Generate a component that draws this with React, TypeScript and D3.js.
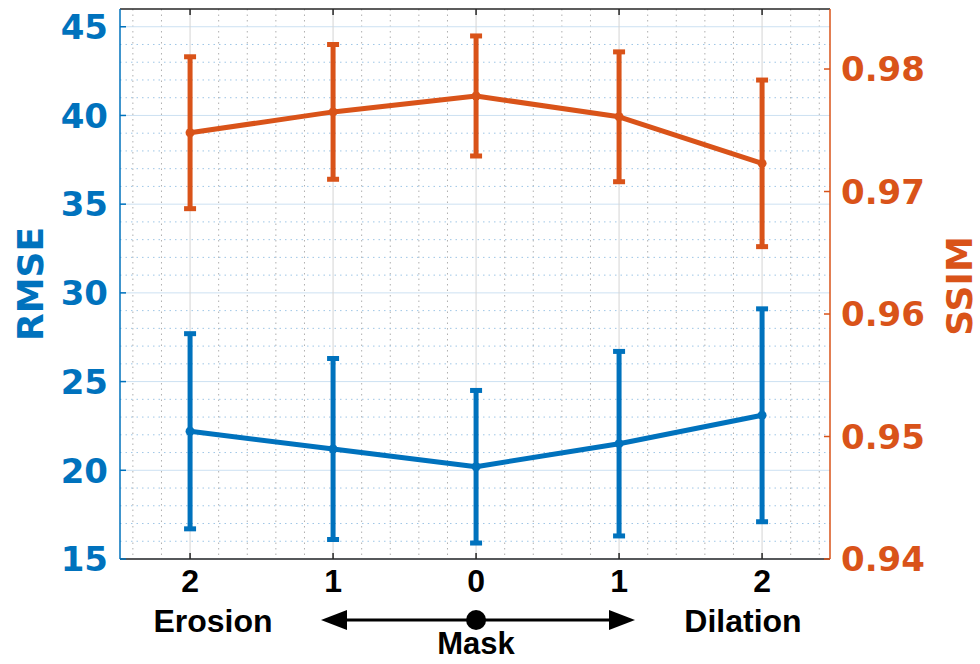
import React from 'react';
import * as d3 from 'd3';

// x positions: Erosion 2, 1, Mask 0, Dilation 1, 2
const categories = ['2', '1', '0', '1', '2'];
const rmseMean = [22.2, 21.2, 20.2, 21.5, 23.1];
const rmseErr = [5.5, 5.1, 4.3, 5.2, 6.0];
const ssimMean = [0.9748, 0.9765, 0.9778, 0.9761, 0.9723];
const ssimErr = [0.0062, 0.0055, 0.0049, 0.0053, 0.0068];
const rmseTicks = [15, 20, 25, 30, 35, 40, 45];
const ssimTicks = [0.94, 0.95, 0.96, 0.97, 0.98];

const BLUE = '#0072BD';
const ORANGE = '#D95319';
const YFONT = '"DejaVu Sans", Verdana, sans-serif';
const XFONT = '"Liberation Sans", Arial, sans-serif';

export default function App() {
  const width = 980;
  const height = 664;
  const left = 120, right = 830, top = 9, bottom = 559;

  const x = d3.scaleLinear().domain([0.51, 5.475]).range([left, right]);
  const yL = d3.scaleLinear().domain([15, 46]).range([bottom, top]);
  const yR = d3.scaleLinear().domain([0.94, 0.9849]).range([bottom, top]);

  const idx = categories.map((_, i) => i + 1);
  const minorX = d3.range(0.6, 5.45, 0.2).filter((v) => Math.abs(v - Math.round(v)) > 0.01);
  const minorY = d3.range(16, 46, 1).filter((v) => v % 5 !== 0);

  const rmsePath = d3.line<number>().x((d, i) => x(i + 1)).y((d) => yL(d))(rmseMean) || '';
  const ssimPath = d3.line<number>().x((d, i) => x(i + 1)).y((d) => yR(d))(ssimMean) || '';

  const errorBars = (mean: number[], err: number[], y: d3.ScaleLinear<number, number>, color: string) =>
    mean.map((m, i) => {
      const cx = x(i + 1);
      const y0 = y(m - err[i]);
      const y1 = y(m + err[i]);
      return (
        <g key={i} stroke={color} strokeWidth={5}>
          <line x1={cx} x2={cx} y1={y0} y2={y1} />
          <line x1={cx - 6} x2={cx + 6} y1={y0} y2={y0} />
          <line x1={cx - 6} x2={cx + 6} y1={y1} y2={y1} />
        </g>
      );
    });

  const arrowY = 620;
  const arrowL = 321, arrowR = 635, dotX = x(3);

  return (
    <svg width={width} height={height} style={{ position: 'absolute', left: 0, top: 0, background: '#fff' }}>
      {/* grid */}
      <g>
        {minorX.map((v) => (
          <line key={'mx' + v} x1={x(v)} x2={x(v)} y1={top} y2={bottom} stroke="#b0b0b0" strokeWidth={1} strokeDasharray="1.5 4" />
        ))}
        {minorY.map((v) => (
          <line key={'my' + v} x1={left} x2={right} y1={yL(v)} y2={yL(v)} stroke="#9fc6e6" strokeWidth={1} strokeDasharray="1.5 4" />
        ))}
        {rmseTicks.map((v) => (
          <line key={'gy' + v} x1={left} x2={right} y1={yL(v)} y2={yL(v)} stroke="#cde1f2" strokeWidth={1} />
        ))}
        {idx.map((v) => (
          <line key={'gx' + v} x1={x(v)} x2={x(v)} y1={top} y2={bottom} stroke="#d4d4d4" strokeWidth={1} />
        ))}
      </g>

      {/* series */}
      {errorBars(ssimMean, ssimErr, yR, ORANGE)}
      <path d={ssimPath} fill="none" stroke={ORANGE} strokeWidth={5} strokeLinejoin="round" />
      {ssimMean.map((d, i) => (
        <circle key={'so' + i} cx={x(i + 1)} cy={yR(d)} r={4.5} fill={ORANGE} />
      ))}
      {errorBars(rmseMean, rmseErr, yL, BLUE)}
      <path d={rmsePath} fill="none" stroke={BLUE} strokeWidth={5} strokeLinejoin="round" />
      {rmseMean.map((d, i) => (
        <circle key={'bo' + i} cx={x(i + 1)} cy={yL(d)} r={4.5} fill={BLUE} />
      ))}

      {/* axes frame */}
      <line x1={left} x2={right} y1={top} y2={top} stroke="#262626" strokeWidth={1.5} />
      <line x1={left} x2={right} y1={bottom} y2={bottom} stroke="#262626" strokeWidth={1.5} />
      <line x1={left} x2={left} y1={top} y2={bottom} stroke={BLUE} strokeWidth={1.5} />
      <line x1={right} x2={right} y1={top} y2={bottom} stroke={ORANGE} strokeWidth={1.5} />

      {/* x ticks */}
      {idx.map((v, i) => (
        <g key={'xt' + i}>
          <line x1={x(v)} x2={x(v)} y1={bottom} y2={bottom - 6} stroke="#262626" strokeWidth={1.5} />
          <line x1={x(v)} x2={x(v)} y1={top} y2={top + 6} stroke="#262626" strokeWidth={1.5} />
          <text x={x(v)} y={592} textAnchor="middle" fontFamily={XFONT} fontWeight="bold" fontSize={32} fill="#000">
            {categories[i]}
          </text>
        </g>
      ))}

      {/* left y axis */}
      {rmseTicks.map((v) => (
        <g key={'yl' + v}>
          <line x1={left} x2={left + 6} y1={yL(v)} y2={yL(v)} stroke={BLUE} strokeWidth={1.5} />
          <text x={108} y={yL(v)} dy="0.36em" textAnchor="end" fontFamily={YFONT} fontWeight="bold" fontSize={34} fill={BLUE}>
            {v}
          </text>
        </g>
      ))}
      <text transform="translate(43,284) rotate(-90)" textAnchor="middle" fontFamily={YFONT} fontWeight="bold" fontSize={36} fill={BLUE}>
        RMSE
      </text>

      {/* right y axis */}
      {ssimTicks.map((v) => (
        <g key={'yr' + v}>
          <line x1={right} x2={right - 6} y1={yR(v)} y2={yR(v)} stroke={ORANGE} strokeWidth={1.5} />
          <text x={841} y={yR(v)} dy="0.36em" textAnchor="start" fontFamily={YFONT} fontWeight="bold" fontSize={34} fill={ORANGE}>
            {v.toFixed(2)}
          </text>
        </g>
      ))}
      <text transform="translate(972,286) rotate(-90)" textAnchor="middle" fontFamily={YFONT} fontWeight="bold" fontSize={36} fill={ORANGE}>
        SSIM
      </text>

      {/* x axis annotation */}
      <text x={213} y={632} textAnchor="middle" fontFamily={XFONT} fontWeight="bold" fontSize={32} fill="#000">Erosion</text>
      <text x={743} y={632} textAnchor="middle" fontFamily={XFONT} fontWeight="bold" fontSize={32} fill="#000">Dilation</text>
      <text x={dotX} y={654} textAnchor="middle" fontFamily={XFONT} fontWeight="bold" fontSize={31} fill="#000">Mask</text>
      <line x1={arrowL + 20} x2={arrowR - 20} y1={arrowY} y2={arrowY} stroke="#000" strokeWidth={3} />
      <path d={`M${arrowL},${arrowY} L${arrowL + 26},${arrowY - 10} L${arrowL + 26},${arrowY + 10} Z`} fill="#000" />
      <path d={`M${arrowR},${arrowY} L${arrowR - 26},${arrowY - 10} L${arrowR - 26},${arrowY + 10} Z`} fill="#000" />
      <circle cx={dotX} cy={arrowY} r={10} fill="#000" />
    </svg>
  );
}
